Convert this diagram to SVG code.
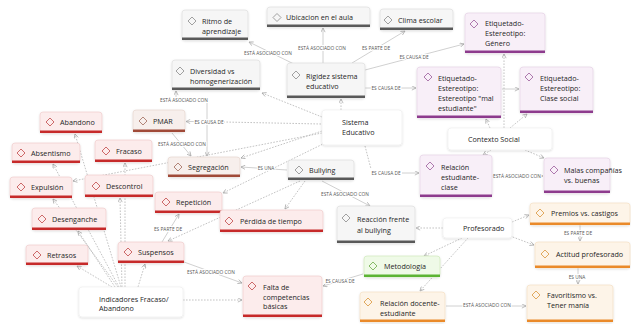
<svg xmlns="http://www.w3.org/2000/svg" width="631" height="324" viewBox="0 0 631 324">
<defs>
<filter id="sh" x="-10%" y="-10%" width="120%" height="130%"><feDropShadow dx="0" dy="0.9" stdDeviation="0.9" flood-color="#000" flood-opacity="0.14"/></filter>
<marker id="ar" viewBox="0 0 6 6" refX="5.5" refY="3" markerWidth="5" markerHeight="5" markerUnits="userSpaceOnUse" orient="auto"><path d="M0.5,0.5 L5.5,3 L0.5,5.5" fill="none" stroke="#a8a8a8" stroke-width="0.9"/></marker>
<style>
text{font-family:"Open Sans","Liberation Sans",sans-serif;}
.t{font-size:7.2px;fill:#262626;}
.lb{font-size:4.8px;fill:#555;text-anchor:middle;stroke:#fff;stroke-width:2.2;paint-order:stroke;stroke-linejoin:round;}
.bg{filter:url(#sh);stroke-width:0.6;}
.dia{fill:none;stroke-width:0.8;}
.s{fill:none;stroke:#c4c4c4;stroke-width:0.8;}
.d{fill:none;stroke:#b4b4b4;stroke-width:0.8;stroke-dasharray:1.6 1.4;}
.a{marker-end:url(#ar);}
.gray .bg{fill:#f6f6f6;stroke:#dadada;} .gray .bar{fill:#595959;} .gray .dia{stroke:#8a8a8a;}
.pur .bg{fill:#f8eff8;stroke:#e2cce2;} .pur .bar{fill:#8d3b8d;} .pur .dia{stroke:#9a5a9a;}
.red .bg{fill:#fcecec;stroke:#eec8c8;} .red .bar{fill:#c62a2a;} .red .dia{stroke:#c04848;}
.brn .bg{fill:#f7efec;stroke:#e4d2ca;} .brn .bar{fill:#a04a38;} .brn .dia{stroke:#a06a5a;}
.org .bg{fill:#fdf4e8;stroke:#f3dbbd;} .org .bar{fill:#ea8a2a;} .org .dia{stroke:#d9963a;}
.grn .bg{fill:#effae7;stroke:#c9e7b3;} .grn .bar{fill:#5cb434;} .grn .dia{stroke:#6bab45;}
.wht .bg{fill:#fff;stroke:#ececec;}
</style>
</defs>
<rect width="631" height="324" fill="#fff"/>

<g id="connectors">
<path class="s a" d="M298,66 L249,42"/>
<path class="s a" d="M323,63 L323,28"/>
<path class="s a" d="M352,63 L405,31"/>
<path class="s a" d="M365,70 L464,44"/>
<path class="s a" d="M365,88 L416,88"/>
<path class="s a" d="M176,97 L176,91"/>
<path class="s a" d="M207,103 L207,156"/>
<path class="s a" d="M172,133 L191,156"/>
<path class="s a" d="M196,121.5 L186,121.5"/>
<path class="d" d="M321,124 L224,122"/>
<path class="s a" d="M287,170 L241,167"/>
<path class="s a" d="M322,181 L370,206"/>
<path class="d" d="M365,146 L371,169"/>
<path class="s a" d="M402,173 L419,173"/>
<path class="s a" d="M492,176 L543,176"/>
<path class="s a" d="M502,89 L519,89"/>
<path class="s a" d="M162,242 L179,214"/>
<path class="s a" d="M184,262 L242,283"/>
<path class="s a" d="M363,274 L323,286"/>
<path class="s a" d="M580,225 L580,241"/>
<path class="s a" d="M578,268 L578,284"/>
<path class="s a" d="M446,306 L526,306"/>
<path class="d a" d="M341,110 L341,99"/>
<path class="d a" d="M322,117 L262,93"/>
<path class="d a" d="M322,131 L241,158"/>
<path class="d a" d="M322,133 L73,181"/>
<path class="d a" d="M325,143 L223,193"/>
<path class="d a" d="M305,181 L285,209"/>
<path class="d a" d="M300,181 L168,241"/>
<path class="d a" d="M490,128 L486,119"/>
<path class="d a" d="M510,128 L527,114"/>
<path class="d a" d="M504,128 L504,54"/>
<path class="d a" d="M491,150 L483,155"/>
<path class="d a" d="M525,150 L544,158"/>
<path class="d a" d="M443,228 L416,228"/>
<path class="d a" d="M512,222 L529,215"/>
<path class="d a" d="M510,236 L534,245"/>
<path class="d a" d="M462,238 L424,256"/>
<path class="d a" d="M468,238 L420,291"/>
<path class="d a" d="M112,287 L77,266"/>
<path class="d a" d="M115,287 L78,231"/>
<path class="d a" d="M118,287 L53,199"/>
<path class="d a" d="M119,287 L53,164"/>
<path class="d a" d="M121,287 L75,134"/>
<path class="d a" d="M122,287 L120,198"/>
<path class="d a" d="M125,287 L125,163"/>
<path class="d a" d="M138,287 L145,264"/>
<path class="d a" d="M183,300 L242,300"/>
<text class="lb" x="268" y="54.5">ESTÁ ASOCIADO CON</text>
<text class="lb" x="322" y="49.5">ESTÁ ASOCIADO CON</text>
<text class="lb" x="376" y="49.5">ES PARTE DE</text>
<text class="lb" x="414" y="58.5">ES CAUSA DE</text>
<text class="lb" x="386" y="89.5">ES CAUSA DE</text>
<text class="lb" x="184" y="101.5">ESTÁ ASOCIADO CON</text>
<text class="lb" x="209" y="123.5">ES CAUSA DE</text>
<text class="lb" x="182" y="145.5">ESTÁ ASOCIADO CON</text>
<text class="lb" x="266" y="170">ES UNA</text>
<text class="lb" x="345" y="195.5">ESTÁ ASOCIADO CON</text>
<text class="lb" x="386" y="174.5">ES CAUSA DE</text>
<text class="lb" x="517" y="177.5">ESTÁ ASOCIADO CON</text>
<text class="lb" x="168" y="230.5">ES PARTE DE</text>
<text class="lb" x="211" y="273.5">ESTÁ ASOCIADO CON</text>
<text class="lb" x="340" y="282.5">ES CAUSA DE</text>
<text class="lb" x="578" y="234.5">ES PARTE DE</text>
<text class="lb" x="577" y="278.5">ES UNA</text>
<text class="lb" x="487" y="307">ESTÁ ASOCIADO CON</text>
</g>

<g id="ritmo" class="gray" transform="translate(182,10)"><rect class="bg" width="66" height="30" rx="3"/><rect class="bar" y="27.5" width="66" height="2.5"/><path class="dia" d="M6,11 L10,7 L14,11 L10,15Z"/><text class="t" x="20" y="13.5">Ritmo de</text><text class="t" x="20" y="23.5">aprendizaje</text></g>
<g id="ubicacion" class="gray" transform="translate(267,7)"><rect class="bg" width="103" height="20" rx="3"/><rect class="bar" y="17.5" width="103" height="2.5"/><path class="dia" d="M6,10.5 L10,6.5 L14,10.5 L10,14.5Z"/><text class="t" x="19" y="13">Ubicacion en el aula</text></g>
<g id="clima" class="gray" transform="translate(380,9)"><rect class="bg" width="73" height="21" rx="3"/><rect class="bar" y="18.5" width="73" height="2.5"/><path class="dia" d="M4,11 L8,7 L12,11 L8,15Z"/><text class="t" x="18" y="13.5">Clima escolar</text></g>
<g id="diversidad" class="gray" transform="translate(172,60)"><rect class="bg" width="88" height="30" rx="3"/><rect class="bar" y="27.5" width="88" height="2.5"/><path class="dia" d="M4,11 L8,7 L12,11 L8,15Z"/><text class="t" x="18" y="14">Diversidad vs</text><text class="t" x="18" y="23.5">homogenerización</text></g>
<g id="rigidez" class="gray" transform="translate(287,63)"><rect class="bg" width="78" height="35" rx="3"/><rect class="bar" y="32.5" width="78" height="2.5"/><path class="dia" d="M5,12 L9,8 L13,12 L9,16Z"/><text class="t" x="19" y="15.5">Rigidez sistema</text><text class="t" x="19" y="25.5">educativo</text></g>
<g id="bullying" class="gray" transform="translate(288,160)"><rect class="bg" width="66" height="20" rx="3"/><rect class="bar" y="17.5" width="66" height="2.5"/><path class="dia" d="M7,10 L11,6 L15,10 L11,14Z"/><text class="t" x="21" y="12.5">Bullying</text></g>
<g id="reaccion" class="gray" transform="translate(337,206)"><rect class="bg" width="78" height="37" rx="3"/><rect class="bar" y="34.5" width="78" height="2.5"/><path class="dia" d="M5,12 L9,8 L13,12 L9,16Z"/><text class="t" x="20" y="15.5">Reacción frente</text><text class="t" x="20" y="26.5">al bullying</text></g>

<g id="genero" class="pur" transform="translate(465,13)"><rect class="bg" width="80" height="40" rx="3"/><rect class="bar" y="37.5" width="80" height="2.5"/><path class="dia" d="M5,11 L9,7 L13,11 L9,15Z"/><text class="t" x="20" y="12.5">Etiquetado-</text><text class="t" x="20" y="22.5">Estereotipo:</text><text class="t" x="20" y="32.5">Género</text></g>
<g id="malest" class="pur" transform="translate(417,67)"><rect class="bg" width="84" height="51" rx="3"/><rect class="bar" y="48.5" width="84" height="2.5"/><path class="dia" d="M7,10 L11,6 L15,10 L11,14Z"/><text class="t" x="21" y="13.5">Etiquetado-</text><text class="t" x="21" y="23.5">Estereotipo:</text><text class="t" x="21" y="33.5">Estereotipo "mal</text><text class="t" x="21" y="43.5">estudiante"</text></g>
<g id="clase" class="pur" transform="translate(520,67)"><rect class="bg" width="73" height="46" rx="3"/><rect class="bar" y="43.5" width="73" height="2.5"/><path class="dia" d="M5,10 L9,6 L13,10 L9,14Z"/><text class="t" x="20" y="13.5">Etiquetado-</text><text class="t" x="20" y="23.5">Estereotipo:</text><text class="t" x="20" y="33.5">Clase social</text></g>
<g id="relest" class="pur" transform="translate(420,155)"><rect class="bg" width="72" height="42" rx="3"/><rect class="bar" y="39.5" width="72" height="2.5"/><path class="dia" d="M6,11 L10,7 L14,11 L10,15Z"/><text class="t" x="21" y="14.5">Relación</text><text class="t" x="21" y="24.5">estudiante-</text><text class="t" x="21" y="34.5">clase</text></g>
<g id="malas" class="pur" transform="translate(544,158)"><rect class="bg" width="66" height="35" rx="3"/><rect class="bar" y="32.5" width="66" height="2.5"/><path class="dia" d="M6,12 L10,8 L14,12 L10,16Z"/><text class="t" x="20" y="14.5">Malas compañías</text><text class="t" x="20" y="24.5">vs. buenas</text></g>

<g id="abandono" class="red" transform="translate(40,112)"><rect class="bg" width="62" height="21" rx="3"/><rect class="bar" y="18.5" width="62" height="2.5"/><path class="dia" d="M6,10 L10,6 L14,10 L10,14Z"/><text class="t" x="20" y="13">Abandono</text></g>
<g id="absentismo" class="red" transform="translate(12,143)"><rect class="bg" width="68" height="20" rx="3"/><rect class="bar" y="17.5" width="68" height="2.5"/><path class="dia" d="M5,10 L9,6 L13,10 L9,14Z"/><text class="t" x="19" y="12.5">Absentismo</text></g>
<g id="fracaso" class="red" transform="translate(95,140)"><rect class="bg" width="57" height="22" rx="3"/><rect class="bar" y="19.5" width="57" height="2.5"/><path class="dia" d="M7,11 L11,7 L15,11 L11,15Z"/><text class="t" x="21" y="13.5">Fracaso</text></g>
<g id="expulsion" class="red" transform="translate(10,177)"><rect class="bg" width="62" height="21" rx="3"/><rect class="bar" y="18.5" width="62" height="2.5"/><path class="dia" d="M7,10 L11,6 L15,10 L11,14Z"/><text class="t" x="21" y="13">Expulsión</text></g>
<g id="descontrol" class="red" transform="translate(85,175)"><rect class="bg" width="68" height="22" rx="3"/><rect class="bar" y="19.5" width="68" height="2.5"/><path class="dia" d="M7,11 L11,7 L15,11 L11,15Z"/><text class="t" x="21" y="13.5">Descontrol</text></g>
<g id="desenganche" class="red" transform="translate(32,208)"><rect class="bg" width="74" height="22" rx="3"/><rect class="bar" y="19.5" width="74" height="2.5"/><path class="dia" d="M6,11 L10,7 L14,11 L10,15Z"/><text class="t" x="20" y="13.5">Desenganche</text></g>
<g id="retrasos" class="red" transform="translate(26,245)"><rect class="bg" width="62" height="20" rx="3"/><rect class="bar" y="17.5" width="62" height="2.5"/><path class="dia" d="M7,10 L11,6 L15,10 L11,14Z"/><text class="t" x="21" y="12.5">Retrasos</text></g>
<g id="suspensos" class="red" transform="translate(118,242)"><rect class="bg" width="66" height="21" rx="3"/><rect class="bar" y="18.5" width="66" height="2.5"/><path class="dia" d="M6,10 L10,6 L14,10 L10,14Z"/><text class="t" x="20" y="13">Suspensos</text></g>
<g id="repeticion" class="red" transform="translate(155,192)"><rect class="bg" width="67" height="21" rx="3"/><rect class="bar" y="18.5" width="67" height="2.5"/><path class="dia" d="M7,10 L11,6 L15,10 L11,14Z"/><text class="t" x="21" y="13">Repetición</text></g>
<g id="perdida" class="red" transform="translate(220,210)"><rect class="bg" width="103" height="22" rx="3"/><rect class="bar" y="19.5" width="103" height="2.5"/><path class="dia" d="M5,11 L9,7 L13,11 L9,15Z"/><text class="t" x="20" y="13.5">Pérdida de tiempo</text></g>
<g id="falta" class="red" transform="translate(243,276)"><rect class="bg" width="79" height="41" rx="3"/><rect class="bar" y="38.5" width="79" height="2.5"/><path class="dia" d="M5,10 L9,6 L13,10 L9,14Z"/><text class="t" x="20" y="13.5">Falta de</text><text class="t" x="20" y="23.5">competencias</text><text class="t" x="20" y="33">básicas</text></g>

<g id="pmar" class="brn" transform="translate(133,110)"><rect class="bg" width="52" height="22" rx="3"/><rect class="bar" y="19.5" width="52" height="2.5"/><path class="dia" d="M6,11 L10,7 L14,11 L10,15Z"/><text class="t" x="20" y="13.5">PMAR</text></g>
<g id="segregacion" class="brn" transform="translate(168,157)"><rect class="bg" width="72" height="20" rx="3"/><rect class="bar" y="17.5" width="72" height="2.5"/><path class="dia" d="M6,10 L10,6 L14,10 L10,14Z"/><text class="t" x="20" y="12.5">Segregación</text></g>

<g id="metodologia" class="grn" transform="translate(364,256)"><rect class="bg" width="76" height="21" rx="3"/><rect class="bar" y="18.5" width="76" height="2.5"/><path class="dia" d="M5,10 L9,6 L13,10 L9,14Z"/><text class="t" x="20" y="12.5">Metodología</text></g>

<g id="premios" class="org" transform="translate(530,203)"><rect class="bg" width="100" height="22" rx="3"/><rect class="bar" y="19.5" width="100" height="2.5"/><path class="dia" d="M6,10 L10,6 L14,10 L10,14Z"/><text class="t" x="21" y="12.5">Premios vs. castigos</text></g>
<g id="actitud" class="org" transform="translate(535,242)"><rect class="bg" width="95" height="26" rx="3"/><rect class="bar" y="23.5" width="95" height="2.5"/><path class="dia" d="M6,12 L10,8 L14,12 L10,16Z"/><text class="t" x="21" y="14.5">Actitud profesorado</text></g>
<g id="favoritismo" class="org" transform="translate(527,285)"><rect class="bg" width="86" height="37" rx="3"/><rect class="bar" y="34.5" width="86" height="2.5"/><path class="dia" d="M5,10 L9,6 L13,10 L9,14Z"/><text class="t" x="20" y="12.5">Favoritismo vs.</text><text class="t" x="20" y="22.5">Tener manía</text></g>
<g id="reldoc" class="org" transform="translate(360,292)"><rect class="bg" width="85" height="30" rx="3"/><rect class="bar" y="27.5" width="85" height="2.5"/><path class="dia" d="M4,10 L8,6 L12,10 L8,14Z"/><text class="t" x="20" y="13.5">Relación docente-</text><text class="t" x="20" y="23.5">estudiante</text></g>

<g id="sistema" class="wht" transform="translate(322,110)"><rect class="bg" width="80" height="35" rx="3"/><text class="t" x="20" y="14.5">Sistema</text><text class="t" x="20" y="24.5">Educativo</text></g>
<g id="contexto" class="wht" transform="translate(448,128)"><rect class="bg" width="104" height="22" rx="3"/><text class="t" x="20" y="13.5">Contexto Social</text></g>
<g id="profesorado" class="wht" transform="translate(443,218)"><rect class="bg" width="69" height="20" rx="3"/><text class="t" x="20" y="12.5">Profesorado</text></g>
<g id="indicadores" class="wht" transform="translate(79,287)"><rect class="bg" width="104" height="30" rx="3"/><text class="t" x="20" y="14.5">Indicadores Fracaso/</text><text class="t" x="20" y="23.5">Abandono</text></g>
</svg>
